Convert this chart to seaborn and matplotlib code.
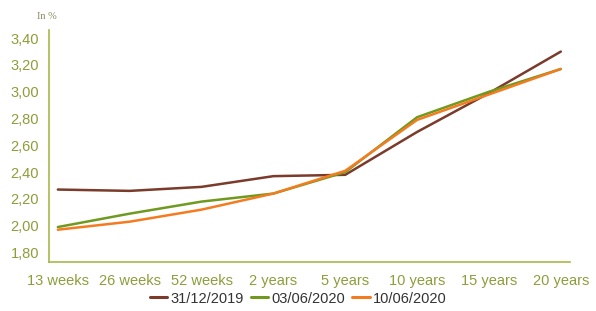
import pandas as pd
import seaborn as sns
import matplotlib.pyplot as plt

# Yield curve data (in %)
maturities = ["13 weeks", "26 weeks", "52 weeks", "2 years", "5 years",
              "10 years", "15 years", "20 years"]
dates = ["31/12/2019", "03/06/2020", "10/06/2020"]
curve_2019_12_31 = [2.27, 2.26, 2.29, 2.37, 2.38, 2.70, 2.99, 3.30]
curve_2020_06_03 = [1.99, 2.09, 2.18, 2.24, 2.40, 2.81, 3.00, 3.17]
curve_2020_06_10 = [1.97, 2.03, 2.12, 2.24, 2.41, 2.79, 2.98, 3.17]
y_ticks = [1.80, 2.00, 2.20, 2.40, 2.60, 2.80, 3.00, 3.20, 3.40]

colors = {"31/12/2019": "#7a3b2a", "03/06/2020": "#6f9a1f", "10/06/2020": "#f47c20"}
axis_col = "#a8b84c"
label_col = "#8c9e3a"

df = pd.DataFrame({"maturity": maturities * 3,
                   "pos": list(range(len(maturities))) * 3,
                   "date": [d for d in dates for _ in maturities],
                   "yield": curve_2019_12_31 + curve_2020_06_03 + curve_2020_06_10})

sns.set_style("white")
plt.rcParams['font.family'] = ['Liberation Sans', 'DejaVu Sans']

fig = plt.figure(figsize=(5.96, 3.11), dpi=100)
ax = fig.add_axes([0.082, 0.158, 0.874, 0.745])

sns.lineplot(data=df, x="pos", y="yield", hue="date", hue_order=dates,
             palette=colors, linewidth=1.8, ax=ax, legend=False)

ax.set_xlim(-0.125, 7.125)
ax.set_ylim(1.73, 3.46)
ax.set_xticks(range(len(maturities)))
ax.set_xticklabels(maturities)
ax.set_yticks(y_ticks)
ax.set_yticklabels([f"{v:.2f}".replace(".", ",") for v in y_ticks])
ax.set_xlabel("")
ax.set_ylabel("")

for s in ["top", "right"]:
    ax.spines[s].set_visible(False)
for s in ["left", "bottom"]:
    ax.spines[s].set_color(axis_col)
    ax.spines[s].set_linewidth(1.2)
ax.tick_params(axis="both", colors=axis_col, labelcolor=label_col,
               labelsize=10.5, length=5, width=1.2, direction="out")
ax.tick_params(axis="x", pad=4)
ax.tick_params(axis="y", pad=2)

fig.text(0.079, 0.947, "In %", fontsize=7.5, color="#8a8a60",
         family="Liberation Serif", ha="center", va="center")

handles = [plt.Line2D([], [], color=colors[d], linewidth=2.2) for d in dates]
fig.legend(handles, dates, loc="center", bbox_to_anchor=(0.5, 0.04), ncol=3,
           frameon=False, fontsize=10.5, handlelength=1.2, handletextpad=0.2,
           columnspacing=0.5, labelcolor="#333333")

fig.savefig("out.png", dpi=100, facecolor="white")
